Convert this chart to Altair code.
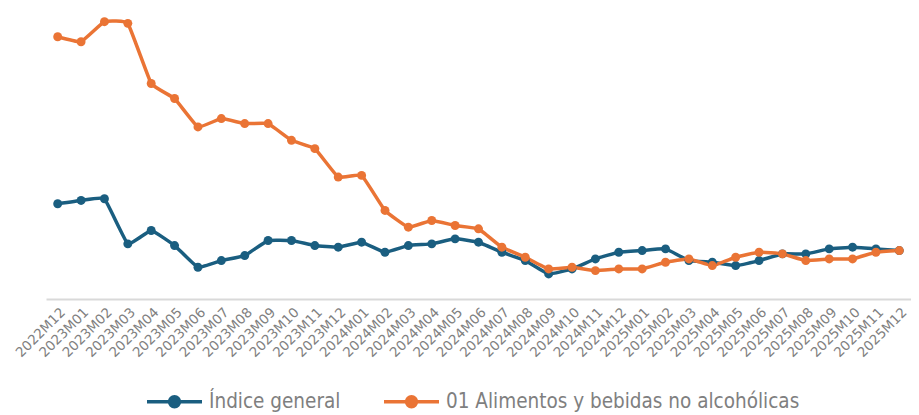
import altair as alt
import pandas as pd

months = [
    "2022M12",
    "2023M01", "2023M02", "2023M03", "2023M04", "2023M05", "2023M06",
    "2023M07", "2023M08", "2023M09", "2023M10", "2023M11", "2023M12",
    "2024M01", "2024M02", "2024M03", "2024M04", "2024M05", "2024M06",
    "2024M07", "2024M08", "2024M09", "2024M10", "2024M11", "2024M12",
    "2025M01", "2025M02", "2025M03", "2025M04", "2025M05", "2025M06",
    "2025M07", "2025M08", "2025M09", "2025M10", "2025M11", "2025M12",
]

series_names = ["Índice general", "01 Alimentos y bebidas no alcohólicas"]

general = [5.7, 5.9, 6.0, 3.3, 4.1, 3.2, 1.9, 2.3, 2.6, 3.5, 3.5, 3.2, 3.1,
           3.4, 2.8, 3.2, 3.3, 3.6, 3.4, 2.8, 2.3, 1.5, 1.8, 2.4, 2.8,
           2.9, 3.0, 2.3, 2.2, 2.0, 2.3, 2.7, 2.7, 3.0, 3.1, 3.0, 2.9]

food = [15.7, 15.4, 16.6, 16.5, 12.9, 12.0, 10.3, 10.8, 10.5, 10.5, 9.5, 9.0, 7.3,
        7.4, 5.3, 4.3, 4.7, 4.4, 4.2, 3.1, 2.5, 1.8, 1.9, 1.7, 1.8,
        1.8, 2.2, 2.4, 2.0, 2.5, 2.8, 2.7, 2.3, 2.4, 2.4, 2.8, 2.9]

colors = ["#1a5e80", "#ea7435"]

rows = []
for m, v in zip(months, general):
    rows.append({"month": m, "series": series_names[0], "value": v})
for m, v in zip(months, food):
    rows.append({"month": m, "series": series_names[1], "value": v})
df = pd.DataFrame(rows)

x_enc = alt.X(
    "month:O",
    sort=months,
    title=None,
    scale=alt.Scale(type="point", padding=0.5),
    axis=alt.Axis(
        labelAngle=-45,
        labelFont="DejaVu Sans",
        labelFontSize=13.5,
        labelColor="#808080",
        labelPadding=6,
        ticks=False,
        domainColor="#d9d9d9",
        domainWidth=2,
        grid=False,
    ),
)
y_enc = alt.Y("value:Q", axis=None, scale=alt.Scale(domain=[0, 17], nice=False, zero=True))
color_enc = alt.Color(
    "series:N",
    scale=alt.Scale(domain=series_names, range=colors),
    legend=alt.Legend(
        title=None,
        orient="none",
        legendX=99,
        legendY=357,
        direction="horizontal",
        symbolType="M-1,0L1,0M-0.18,0A0.18,0.18,0,1,1,0.18,0A0.18,0.18,0,1,1,-0.18,0Z",
        symbolSize=3025,
        symbolStrokeWidth=3.5,
        labelFont="DejaVu Sans Condensed, DejaVu Sans",
        labelFontSize=20.5,
        labelColor="#7f7f7f",
        labelOffset=5,
        labelLimit=500,
        columnPadding=36,
    ),
)

base = alt.Chart(df).encode(x=x_enc, y=y_enc, color=color_enc)

lines = base.mark_line(strokeWidth=3.5, interpolate="cardinal", tension=0.7)
points = base.mark_circle(size=80, opacity=1)

chart = (
    alt.layer(lines, points)
    .properties(
        width=865,
        height=284,
        padding={"left": 5, "top": 5, "right": 0, "bottom": 0},
    )
    .configure(background="white")
    .configure_view(strokeWidth=0, stroke="transparent")
)

chart.save("out.html", embed_options={"renderer": "svg", "actions": False})
